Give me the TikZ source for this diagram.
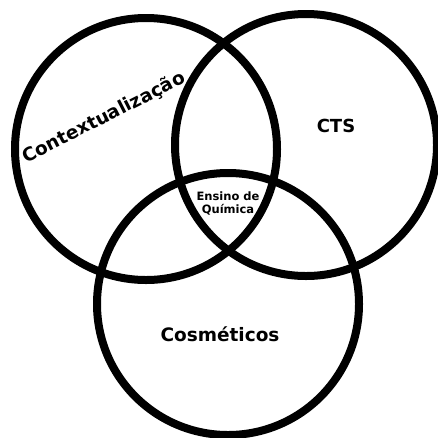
\documentclass[tikz,border=0pt]{standalone}
\usepackage{fontspec}
\setmainfont{DejaVu Sans}
\begin{document}
\begin{tikzpicture}[x=1pt,y=-1pt,
  ring/.style={draw=black,line width=8pt,circle,minimum size=262pt,inner sep=0pt},
  lbl/.style={text=black,inner sep=0pt}]
\useasboundingbox (0,0) rectangle (438,437);
\node[ring] (ctx) at (146,149) {};
\node[ring] (cts) at (306,145) {};
\node[ring] (cos) at (228,304) {};
\node[lbl,font=\bfseries\fontsize{18.5}{20}\selectfont,rotate=27] (tctx) at (104,118) {Contextualização};
\node[lbl,font=\bfseries\fontsize{18}{20}\selectfont] (tcts) at (336,126) {CTS};
\node[lbl,font=\bfseries\fontsize{18.5}{20}\selectfont] (tcos) at (220,334) {Cosméticos};
\node[lbl,font=\bfseries\fontsize{11.5}{13}\selectfont,align=center] (tens) at (228,203) {Ensino de\\Química};
\end{tikzpicture}
\end{document}
